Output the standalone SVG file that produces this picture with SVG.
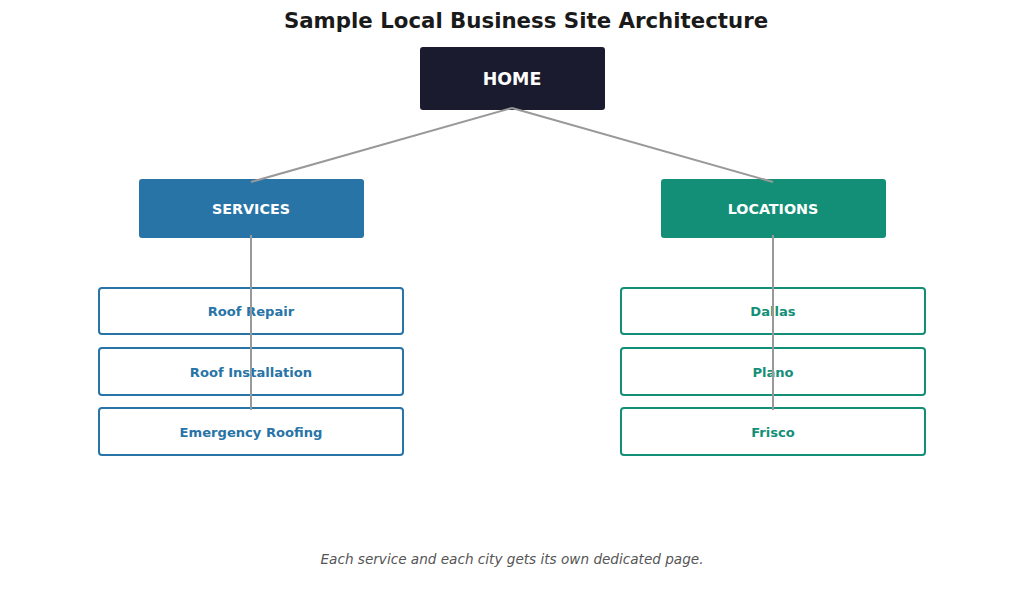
<svg xmlns="http://www.w3.org/2000/svg" width="1024" height="607" viewBox="0 0 1024 607">
<style>
text{font-family:"DejaVu Sans",sans-serif;text-anchor:middle;dominant-baseline:central}
.title{font-size:21.3px;font-weight:bold;fill:#1a1a1a}
.home{fill:#1b1b2f}
.svc{fill:#2874a6}
.loc{fill:#148f77}
.wt{fill:#fff;font-weight:bold}
.cs{fill:#fff;stroke:#2874a6;stroke-width:2}
.cl{fill:#fff;stroke:#148f77;stroke-width:2}
.ts{fill:#2874a6;font-weight:bold;font-size:13.1px}
.tl{fill:#148f77;font-weight:bold;font-size:13.1px}
.conn line{stroke:#999;stroke-width:2}
.cap{font-size:13.6px;font-style:italic;fill:#555}
</style>
<rect width="1024" height="607" fill="#fff"/>
<text class="title" x="526" y="20">Sample Local Business Site Architecture</text>
<g id="home"><rect class="home" x="420" y="47" width="185" height="63" rx="3"/><text class="wt" x="512" y="79" font-size="17.4">HOME</text></g>
<g id="services"><rect class="svc" x="139" y="179" width="225" height="59" rx="3"/><text class="wt" x="251" y="209" font-size="14.3">SERVICES</text></g>
<g id="locations"><rect class="loc" x="661" y="179" width="225" height="59" rx="3"/><text class="wt" x="773" y="209" font-size="14.3">LOCATIONS</text></g>
<g id="roof-repair"><rect class="cs" x="99" y="288" width="304" height="46" rx="3"/><text class="ts" x="251" y="311">Roof Repair</text></g>
<g id="roof-installation"><rect class="cs" x="99" y="348" width="304" height="47" rx="3"/><text class="ts" x="251" y="372">Roof Installation</text></g>
<g id="emergency-roofing"><rect class="cs" x="99" y="408" width="304" height="47" rx="3"/><text class="ts" x="251" y="432">Emergency Roofing</text></g>
<g id="dallas"><rect class="cl" x="621" y="288" width="304" height="46" rx="3"/><text class="tl" x="773" y="311">Dallas</text></g>
<g id="plano"><rect class="cl" x="621" y="348" width="304" height="47" rx="3"/><text class="tl" x="773" y="372">Plano</text></g>
<g id="frisco"><rect class="cl" x="621" y="408" width="304" height="47" rx="3"/><text class="tl" x="773" y="432">Frisco</text></g>
<g id="connectors" class="conn">
<line x1="512" y1="108" x2="251" y2="182"/>
<line x1="512" y1="108" x2="773" y2="182"/>
<line x1="251" y1="235" x2="251" y2="410"/>
<line x1="773" y1="235" x2="773" y2="410"/>
</g>
<text class="cap" x="512" y="559">Each service and each city gets its own dedicated page.</text>
</svg>
